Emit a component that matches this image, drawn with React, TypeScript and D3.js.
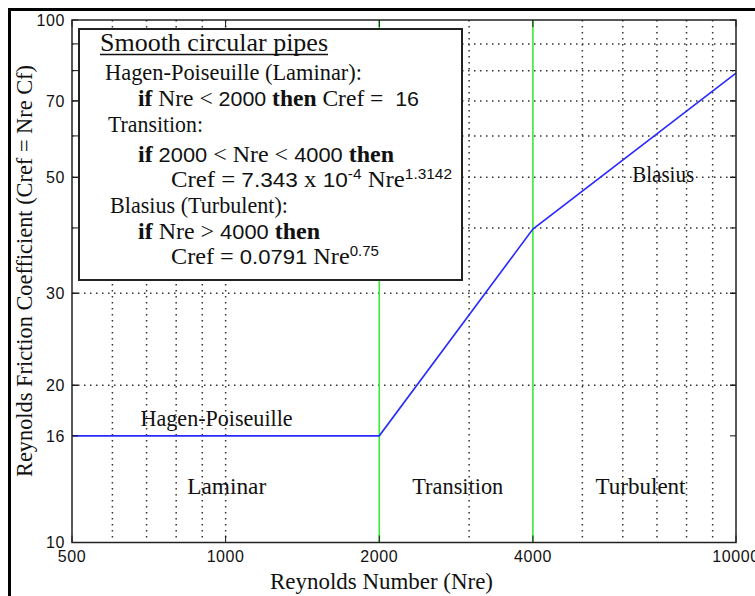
import React from 'react';
import * as d3 from 'd3';

// ---- data ----
const nreValues = [500, 2000, 4000, 10000];
const crefValues = [16, 16, 39.8, 79.1];
const xTickValues = [500, 1000, 2000, 4000, 10000];
const yTickValues = [10, 16, 20, 30, 50, 70, 100];
const xGridValues = [600, 700, 800, 900, 1000, 3000, 5000, 6000, 7000, 8000, 9000];
const yGridValues = [20, 30, 40, 50, 60, 70, 80, 90];
const regimeBoundaries = [2000, 4000];
const regionLabels = ['Hagen-Poiseuille', 'Laminar', 'Transition', 'Turbulent', 'Blasius'];
const regionNre = [960, 1005, 2850, 6500, 7200];
const regionCref = [16.7, 12.4, 12.4, 12.4, 49];

const W = 755;
const H = 596;
const LEFT = 72;
const RIGHT = 736;
const TOP = 20;
const BOTTOM = 542.5;

const SERIF = '"Liberation Serif", "Times New Roman", serif';
const SANS = '"Liberation Sans", Arial, sans-serif';

type Seg = { t: string; b?: boolean; s?: boolean; sup?: boolean };

function Line({ x, y, segs, size = 22.5, len }: { x: number; y: number; segs: Seg[]; size?: number; len?: number }) {
  let raised = false;
  const kids = segs.map((sg, i) => {
    let dy = 0;
    if (sg.sup && !raised) { dy = -8; raised = true; }
    else if (!sg.sup && raised) { dy = 8; raised = false; }
    return (
      <tspan
        key={i}
        dy={dy || undefined}
        fontWeight={sg.b ? 'bold' : 'normal'}
        fontFamily={sg.s ? SANS : SERIF}
        fontSize={sg.sup ? 14 : sg.s ? size - 2 : size}
      >
        {sg.t}
      </tspan>
    );
  });
  return (
    <text x={x} y={y} fontFamily={SERIF} fontSize={size} fill="#111" xmlSpace="preserve"
      textLength={len} lengthAdjust={len ? 'spacingAndGlyphs' : undefined}>
      {kids}
    </text>
  );
}

export default function App() {
  const x = d3.scaleLog().domain([500, 10000]).range([LEFT, RIGHT]);
  const y = d3.scaleLog().domain([10, 100]).range([BOTTOM, TOP]);
  const line = d3.line<number>().x((_, i) => x(nreValues[i])).y((d) => y(d));
  const regionWidths = [152, 79, 91, 90, 62];

  return (
    <svg width={W} height={H} style={{ position: 'absolute', left: 0, top: 0, display: 'block', background: '#fff' }}>
      <rect x={0} y={0} width={W} height={H} fill="#fff" />
      {/* grid */}
      {xGridValues.map((v) => (
        <line key={'gx' + v} x1={x(v)} x2={x(v)} y1={TOP} y2={BOTTOM} stroke="#333" strokeWidth={1.5} strokeDasharray="1.5 4.5" />
      ))}
      {yGridValues.map((v) => (
        <line key={'gy' + v} x1={LEFT} x2={RIGHT} y1={y(v)} y2={y(v)} stroke="#333" strokeWidth={1.5} strokeDasharray="1.5 4.5" />
      ))}
      {/* regime boundaries */}
      {regimeBoundaries.map((v) => (
        <line key={'b' + v} x1={x(v)} x2={x(v)} y1={TOP} y2={BOTTOM} stroke="#33ee33" strokeWidth={1.6} />
      ))}
      {/* curve */}
      <path d={line(crefValues) || ''} fill="none" stroke="#2a2aff" strokeWidth={1.6} />

      {/* region labels */}
      {regionLabels.map((t, i) => (
        <text key={t} x={x(regionNre[i])} y={y(regionCref[i])} textAnchor="middle" fontFamily={SERIF} fontSize={23.5}
          fill="#111" textLength={regionWidths[i]} lengthAdjust="spacingAndGlyphs">{t}</text>
      ))}

      {/* legend box */}
      <rect x={79} y={29} width={383} height={251} fill="#fff" stroke="#222" strokeWidth={2} />

      {/* ticks */}
      {xTickValues.map((v) => (
        <g key={'tx' + v}>
          <line x1={x(v)} x2={x(v)} y1={BOTTOM} y2={BOTTOM - 7} stroke="#111" />
          <line x1={x(v)} x2={x(v)} y1={TOP} y2={TOP + 7} stroke="#111" />
        </g>
      ))}
      {[...yTickValues, ...yGridValues].map((v, i) => (
        <g key={'ty' + i}>
          <line x1={LEFT} x2={LEFT + 6} y1={y(v)} y2={y(v)} stroke="#111" />
          <line x1={RIGHT} x2={RIGHT - 6} y1={y(v)} y2={y(v)} stroke="#111" />
        </g>
      ))}
      {/* axes frame */}
      <rect x={LEFT} y={TOP} width={RIGHT - LEFT} height={BOTTOM - TOP} fill="none" stroke="#222" strokeWidth={1.5} />

      {/* tick labels */}
      {xTickValues.map((v) => (
        <text key={'lx' + v} x={x(v)} y={562} textAnchor="middle" fontFamily={SANS} fontSize={16} letterSpacing={0.6} fill="#111">{v}</text>
      ))}
      {yTickValues.map((v) => (
        <text key={'ly' + v} x={65} y={y(v) + 5.8} textAnchor="end" fontFamily={SANS} fontSize={16} letterSpacing={0.6} fill="#111">{v}</text>
      ))}

      {/* axis titles */}
      <text x={270} y={589} fontFamily={SERIF} fontSize={23.5} fill="#111" textLength={223} lengthAdjust="spacingAndGlyphs">Reynolds Number (Nre)</text>
      <text transform="translate(31.5,477) rotate(-90)" x={0} y={0} fontFamily={SERIF} fontSize={23} fill="#111" textLength={412} lengthAdjust="spacingAndGlyphs">Reynolds Friction Coefficient (Cref = Nre Cf)</text>

      {/* legend text */}
      <Line x={100} y={51} size={25} len={228} segs={[{ t: 'Smooth circular pipes' }]} />
      <line x1={100} x2={328} y1={54.5} y2={54.5} stroke="#111" strokeWidth={1.3} />
      <Line x={105} y={80} len={257} segs={[{ t: 'Hagen-Poiseuille (Laminar):' }]} />
      <Line x={138} y={106} len={281} segs={[
        { t: 'if', b: true }, { t: ' Nre < ' }, { t: '2000', s: true }, { t: ' ' }, { t: 'then', b: true },
        { t: ' Cref =  ' }, { t: '16', s: true }]} />
      <Line x={108} y={132} len={95} segs={[{ t: 'Transition:' }]} />
      <Line x={138} y={162} len={256} segs={[
        { t: 'if', b: true }, { t: ' ' }, { t: '2000', s: true }, { t: ' < Nre < ' }, { t: '4000', s: true }, { t: ' ' },
        { t: 'then', b: true }]} />
      <Line x={171} y={187} len={281} segs={[
        { t: 'Cref = ' }, { t: '7.343', s: true }, { t: ' x ' }, { t: '10', s: true }, { t: '-4', s: true, sup: true },
        { t: ' Nre' }, { t: '1.3142', s: true, sup: true }]} />
      <Line x={110} y={213} len={178} segs={[{ t: 'Blasius (Turbulent):' }]} />
      <Line x={138} y={239} len={182} segs={[
        { t: 'if', b: true }, { t: ' Nre > ' }, { t: '4000', s: true }, { t: ' ' }, { t: 'then', b: true }]} />
      <Line x={171} y={264} len={208} segs={[
        { t: 'Cref = ' }, { t: '0.0791', s: true }, { t: ' Nre' }, { t: '0.75', s: true, sup: true }]} />

      {/* outer frame */}
      <rect x={9.5} y={9.5} width={820} height={700} fill="none" stroke="#000" strokeWidth={3} />
    </svg>
  );
}
